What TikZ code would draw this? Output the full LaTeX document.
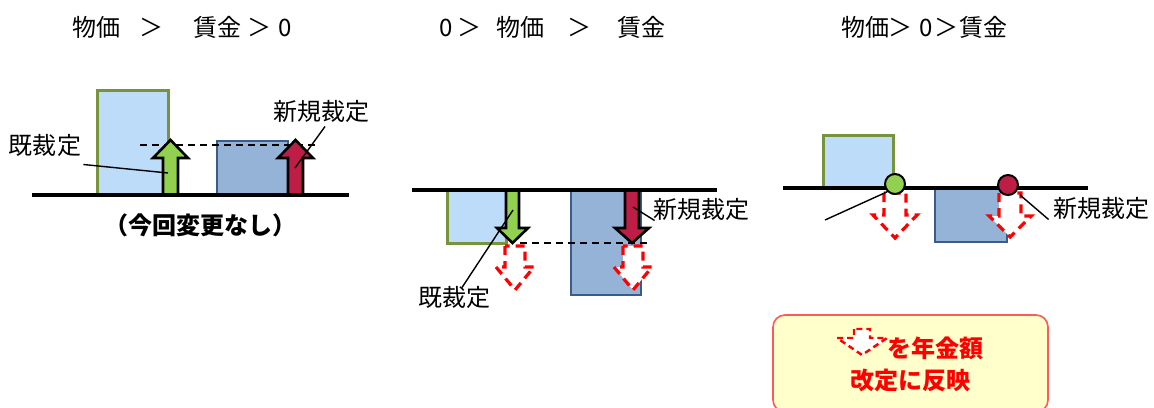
\documentclass[tikz,border=0pt]{standalone}
\usepackage{fontspec}
\setmainfont{Noto Sans CJK JP}
\usetikzlibrary{positioning}

\definecolor{oldfill}{RGB}{189,220,250}
\definecolor{oldedge}{RGB}{119,147,60}
\definecolor{oldarrow}{RGB}{146,208,80}
\definecolor{newfill}{RGB}{149,179,215}
\definecolor{newedge}{RGB}{56,93,138}
\definecolor{newarrow}{RGB}{190,30,70}
\definecolor{notefill}{RGB}{255,255,204}
\definecolor{noteedge}{RGB}{255,90,90}

\begin{document}
\begin{tikzpicture}[x=0.5pt, y=-0.5pt,
	every node/.style = {font=\fontsize{12}{14}\selectfont, inner sep=0pt},
	axis/.style = {line width=2pt},
	oldbar/.style = {draw=oldedge, fill=oldfill, line width=1.5pt},
	newbar/.style = {draw=newedge, fill=newfill, line width=0.8pt},
	blockarrow/.style = {draw=black, line width=1.3pt, line join=miter},
	reflected/.style = {draw=red, fill=white, line width=1.6pt, dash pattern=on 4.5pt off 3pt},
	levelline/.style = {line width=0.8pt, dash pattern=on 3.5pt off 2.5pt},
	leader/.style = {line width=0.7pt},
	dot/.style = {circle, draw, line width=1pt, minimum size=10pt}]
	
	\useasboundingbox (0,0) rectangle (1154,407);
	
	% titles
	\node[anchor=west] (title1) at (72,27) {物価\hspace{9.75pt}＞\hspace{14.75pt}賃金\hspace{3.25pt}＞\hspace{3.25pt}0};
	\node[anchor=west] (title2) at (439,27) {0\hspace{2.25pt}＞\hspace{7.75pt}物価\hspace{11.25pt}＞\hspace{13.25pt}賃金};
	\node[anchor=west] (title3) at (841,27) {物価\hspace{-0.5pt}＞\hspace{3.5pt}0\hspace{0.75pt}＞\hspace{0.75pt}賃金};
	
	% panel 1
	\draw[oldbar] (97,90) rectangle (168,195);
	\draw[newbar] (217,141) rectangle (288,195);
	\draw[levelline] (140,145) -- (318,145);
	\draw[blockarrow, fill=oldarrow] (163,195) -- (163,158) -- (153,158) -- (170.5,140) -- (188,158) -- (178,158) -- (178,195) -- cycle;
	\draw[blockarrow, fill=newarrow] (288,195) -- (288,158) -- (278,158) -- (295.5,140) -- (313,158) -- (303,158) -- (303,195) -- cycle;
	\draw[axis] (32,195) -- (349,195);
	\coordinate (oldup) at (168,173);
	\coordinate (newup) at (295,168);
	\node (old1) at (45,145) {既裁定};
	\node (new1) at (321,111) {新規裁定};
	\node[font=\fontsize{12}{14}\selectfont\bfseries] (nochange) at (200,225) {（今回変更なし）};
	\draw[leader] ([xshift=1pt, yshift=-4pt]old1.south east) -- (oldup);
	\draw[leader] ([xshift=2pt, yshift=-2pt]new1.south) -- (newup);
	
	% panel 2
	\draw[oldbar] (447,190) rectangle (506,243);
	\draw[newbar] (571,190) rectangle (641,295);
	\draw[reflected] (505,246) -- (505,267) -- (496,267) -- (515,290) -- (534,267) -- (525,267) -- (525,246) -- cycle;
	\draw[reflected] (623,246) -- (623,267) -- (614,267) -- (633,290) -- (652,267) -- (643,267) -- (643,246) -- cycle;
	\draw[levelline] (520,243) -- (650,243);
	\draw[blockarrow, fill=oldarrow] (506,190) -- (506,228) -- (497,228) -- (512.5,243) -- (528,228) -- (519,228) -- (519,190) -- cycle;
	\draw[blockarrow, fill=newarrow] (625,190) -- (625,228) -- (615,228) -- (632,243) -- (649,228) -- (639,228) -- (639,190) -- cycle;
	\draw[axis] (412,190) -- (717,190);
	\coordinate (olddown) at (513,210);
	\coordinate (newdown) at (633,207);
	\node (old2) at (454,297) {既裁定};
	\node (new2) at (701,209) {新規裁定};
	\draw[leader] ([xshift=4pt, yshift=-1pt]old2.north) -- (olddown);
	\draw[leader] ([xshift=1pt]new2.south west) -- (newdown);
	
	% panel 3
	\draw[oldbar] (823,135) rectangle (893,188);
	\draw[newbar] (935,188) rectangle (1007,242);
	\draw[reflected] (884,193) -- (884,215) -- (873,215) -- (895,238) -- (917,215) -- (906,215) -- (906,193) -- cycle;
	\draw[reflected] (999,193) -- (999,216) -- (989,216) -- (1010,237) -- (1031,216) -- (1021,216) -- (1021,193) -- cycle;
	\draw[axis] (783,188) -- (1088,188);
	\node[dot, fill=oldarrow] (olddot) at (895,184) {};
	\node[dot, fill=newarrow] (newdot) at (1008,185) {};
	\coordinate (oldfree) at (825,220);
	\coordinate (newtip) at (1020,195);
	\node (new3) at (1101,208) {新規裁定};
	\draw[leader] (oldfree) -- (olddot.south west);
	\draw[leader] ([xshift=-2pt]new3.south west) -- (newtip);
	
	% note
	\draw[draw=noteedge, fill=notefill, line width=0.8pt, rounded corners=6pt] (773,315) rectangle (1048,412);
	\draw[draw=red, fill=white, line width=1.2pt, dash pattern=on 3pt off 2pt] (854,329) -- (854,338) -- (837,338) -- (862,355) -- (887,338) -- (870,338) -- (870,329) -- cycle;
	\node[text=red, font=\fontsize{12}{14}\selectfont\bfseries] (reflect1) at (935.5,348) {を年金額};
	\node[text=red, font=\fontsize{12}{14}\selectfont\bfseries, below=4.5pt of reflect1.south, xshift=-12.5pt, anchor=north] (reflect2) {改定に反映};
\end{tikzpicture}
\end{document}
